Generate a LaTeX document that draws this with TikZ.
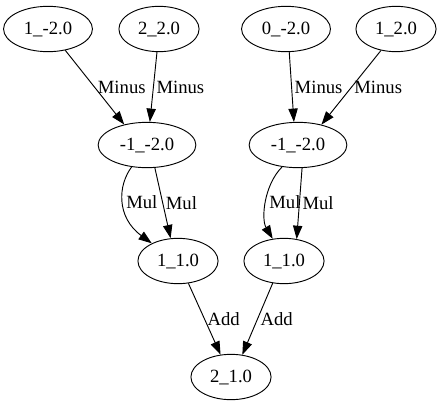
\documentclass[tikz,border=0pt]{standalone}
\usepackage{fontspec}
\setmainfont{Liberation Serif}
\usetikzlibrary{shapes.geometric,arrows.meta}

\begin{document}
\begin{tikzpicture}[x=0.75pt, y=-0.75pt, line width=0.7pt,
    every node/.style = {font=\fontsize{14pt}{16pt}\selectfont},
    val/.style = {shape=ellipse, draw, minimum height=34pt, inner xsep=5.5pt, inner ysep=2pt},
    op/.style = {right, inner sep=2pt, pos=0.5},
    >={Triangle[length=10pt,width=7pt]}]
    \useasboundingbox (0,0) rectangle (442,407);
    \node[val] (a) at (48,29)  {1\_-2.0};
    \node[val] (b) at (159,29) {2\_2.0};
    \node[val] (c) at (286,29) {0\_-2.0};
    \node[val] (d) at (396,29) {1\_2.0};
    \node[val] (e) at (147,145) {-1\_-2.0};
    \node[val] (f) at (298,145) {-1\_-2.0};
    \node[val] (g) at (178,261) {1\_1.0};
    \node[val] (h) at (284,261) {1\_1.0};
    \node[val] (i) at (231,377) {2\_1.0};
    \draw[->] (a.-51) -- node[op] {Minus} (e.138);
    \draw[->] (b.-95) -- node[op] {Minus} (e.83);
    \draw[->] (c.-82) -- node[op] {Minus} (f.100);
    \draw[->] (d.-125) -- node[op] {Minus} (f.41);
    \draw[->] (e.-125) .. controls (118,185) and (116,217) .. node[op] {Mul} (g.146);
    \draw[->] (e.-71) -- node[op] {Mul} (g.108);
    \draw[->] (f.-126) .. controls (264,185) and (261,219) .. node[op] {Mul} (h.117);
    \draw[->] (f.-80) -- node[op] {Mul} (h.60);
    \draw[->] (g.-65) -- node[op] {Add} (i.115);
    \draw[->] (h.-117) -- node[op] {Add} (i.63);
\end{tikzpicture}
\end{document}
